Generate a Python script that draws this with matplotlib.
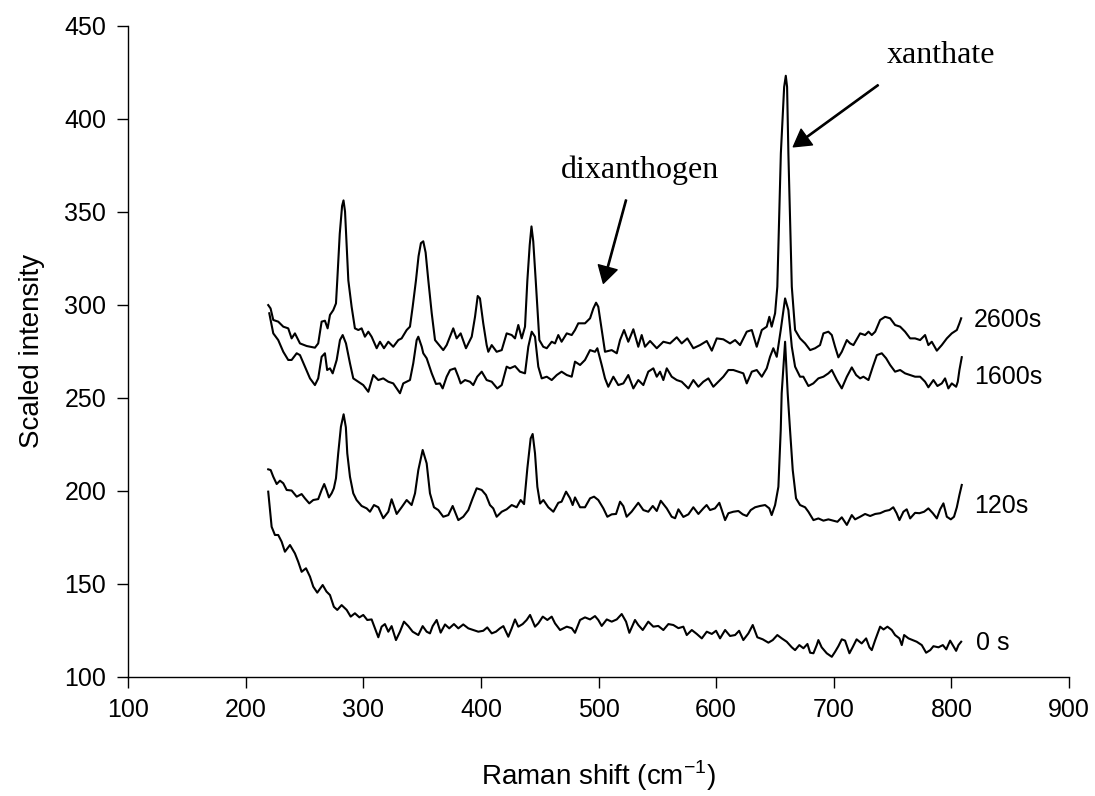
import matplotlib
matplotlib.use("Agg")
import matplotlib.pyplot as plt

plt.rcParams['font.family'] = ['Liberation Sans', 'DejaVu Sans']
plt.rcParams['mathtext.fontset'] = 'custom'
plt.rcParams['mathtext.rm'] = 'Liberation Sans'

# ---- spectra (Raman shift cm-1, scaled intensity) ----
x_2600 = [219.2, 221.2, 223.5, 227.7, 232.0, 236.2, 239.1, 241.9, 246.2, 251.9, 258.9, 261.7,
          264.6, 267.4, 269.7, 271.7, 274.5, 276.8, 277.9, 280.0, 282.0, 283.2, 284.5, 286.0,
          287.3, 290.1, 292.9, 295.8, 298.6, 301.4, 304.3, 307.1, 311.4, 314.2, 317.6, 321.3,
          325.5, 329.8, 332.6, 336.9, 339.7, 342.0, 344.8, 347.0, 349.0, 351.0, 353.0, 355.3,
          358.2, 361.0, 368.0, 370.9, 376.5, 379.4, 382.8, 387.3, 392.2, 395.0, 397.3, 399.2,
          402.0, 404.9, 406.3, 409.2, 413.4, 417.7, 421.9, 426.2, 429.0, 431.8, 434.7, 437.5,
          439.5, 441.5, 443.0, 444.5, 446.6, 449.7, 453.0, 456.0, 460.2, 463.0, 465.8, 468.6,
          473.0, 477.2, 480.0, 482.8, 488.5, 492.8, 495.6, 497.9, 499.8, 502.7, 505.5, 511.2,
          515.5, 518.3, 521.7, 525.3, 529.6, 533.8, 536.7, 539.5, 543.8, 549.5, 555.1, 560.8,
          566.5, 570.7, 575.5, 580.6, 586.3, 592.0, 596.3, 600.5, 606.1, 611.8, 616.1, 620.3,
          626.0, 630.3, 634.5, 638.8, 643.0, 645.2, 647.2, 650.1, 652.0, 655.0, 657.8, 659.2,
          660.3, 661.4, 664.3, 667.1, 671.3, 675.6, 679.9, 684.1, 688.3, 691.2, 695.4, 698.3,
          701.1, 703.9, 706.8, 711.1, 713.9, 716.7, 722.4, 726.6, 729.5, 732.3, 735.2, 739.4,
          743.6, 747.9, 752.1, 756.4, 760.6, 764.9, 769.1, 773.4, 777.6, 780.4, 783.3, 787.6,
          791.8, 796.1, 800.3, 804.6, 806.8, 808.3]
y_2600 = [299.7, 297.9, 291.7, 290.8, 288.1, 287.2, 281.8, 284.5, 279.1, 277.7, 276.8, 279.1,
          290.8, 291.3, 287.2, 294.4, 297.0, 300.6, 313.0, 338.0, 353.0, 356.0, 350.0, 330.0,
          313.0, 298.8, 287.2, 286.3, 287.2, 282.7, 285.4, 282.7, 276.5, 280.0, 276.5, 280.0,
          277.3, 280.9, 281.8, 286.3, 288.1, 298.8, 313.0, 326.0, 333.0, 334.0, 328.0, 313.0,
          295.3, 280.9, 275.5, 278.2, 287.2, 281.8, 284.5, 276.5, 282.7, 293.4, 304.6, 303.3,
          289.9, 278.2, 274.6, 278.2, 274.6, 275.5, 284.5, 283.6, 281.8, 289.0, 281.8, 288.1,
          313.0, 332.0, 342.0, 334.0, 313.0, 280.9, 277.3, 276.5, 280.0, 279.1, 283.6, 280.0,
          284.5, 283.6, 286.3, 289.9, 289.9, 292.6, 297.9, 301.0, 298.8, 286.3, 274.6, 275.5,
          273.8, 280.9, 286.3, 280.0, 286.7, 277.3, 283.6, 277.3, 280.4, 276.5, 280.0, 279.1,
          282.4, 279.1, 281.8, 276.5, 278.2, 280.4, 275.2, 281.8, 281.3, 279.1, 280.9, 278.2,
          285.4, 286.3, 277.3, 286.3, 288.1, 293.4, 288.1, 295.3, 309.6, 381.3, 417.0, 423.0,
          417.0, 381.3, 309.6, 286.3, 281.8, 279.1, 275.5, 276.5, 278.2, 284.5, 285.4, 283.6,
          277.3, 271.6, 274.6, 280.9, 279.1, 278.2, 284.5, 283.6, 285.4, 283.6, 285.4, 291.7,
          293.4, 292.6, 289.0, 288.1, 285.4, 281.8, 281.8, 280.9, 283.6, 278.2, 280.0, 275.2,
          278.2, 281.8, 284.5, 286.3, 289.9, 292.6]

x_1600 = [220.1, 223.5, 227.7, 232.0, 236.2, 239.1, 243.4, 246.2, 250.4, 254.7, 258.9, 261.7,
          264.6, 267.4, 269.3, 271.7, 274.0, 277.4, 280.2, 282.5, 285.3, 288.7, 291.5, 295.8,
          300.0, 304.3, 308.5, 312.8, 317.0, 321.3, 325.5, 331.2, 334.0, 339.7, 342.5, 345.4,
          346.8, 349.7, 351.0, 353.9, 358.2, 361.8, 365.2, 367.5, 370.9, 373.8, 378.0, 380.8,
          382.8, 386.5, 390.7, 393.5, 396.9, 400.7, 404.9, 409.2, 413.9, 417.7, 421.9, 424.7,
          429.0, 433.2, 437.5, 440.3, 443.2, 446.0, 448.8, 451.7, 456.0, 460.2, 464.5, 468.6,
          473.0, 477.2, 480.0, 484.3, 488.5, 492.8, 497.0, 499.0, 502.7, 505.5, 508.3, 512.6,
          516.8, 521.1, 525.3, 529.6, 533.8, 538.1, 542.3, 546.6, 549.5, 552.3, 555.1, 558.0,
          562.2, 566.5, 570.7, 576.4, 580.6, 584.9, 589.1, 593.4, 597.6, 601.9, 606.1, 610.4,
          614.6, 618.9, 623.1, 626.0, 630.3, 634.5, 638.8, 643.0, 645.8, 648.6, 651.5, 654.9,
          658.6, 661.4, 664.3, 667.1, 671.3, 674.1, 678.4, 682.6, 686.9, 691.2, 695.4, 698.3,
          702.6, 706.8, 711.1, 715.3, 719.0, 722.4, 725.2, 729.5, 733.2, 736.6, 740.8, 744.5,
          747.9, 752.1, 756.4, 760.6, 764.9, 769.1, 773.4, 777.6, 780.4, 784.7, 788.1, 791.8,
          794.6, 797.4, 800.3, 804.0, 805.4, 806.8, 808.8]
y_1600 = [295.3, 284.5, 280.9, 274.6, 270.2, 270.2, 273.8, 272.8, 266.6, 260.3, 256.7, 260.3,
          271.9, 273.8, 264.8, 265.7, 263.0, 270.2, 280.9, 283.6, 279.1, 268.4, 260.3, 258.5,
          256.7, 253.1, 262.1, 259.4, 260.3, 258.5, 257.6, 252.3, 257.6, 259.4, 268.4, 280.9,
          282.7, 277.3, 273.8, 271.1, 263.0, 257.3, 257.6, 254.9, 261.2, 264.8, 265.7, 261.2,
          257.6, 259.4, 258.5, 256.7, 261.2, 263.9, 259.4, 258.5, 254.9, 256.7, 266.6, 265.7,
          266.9, 263.9, 263.0, 277.3, 285.4, 282.7, 266.6, 260.3, 261.2, 259.4, 262.1, 263.9,
          262.1, 261.2, 269.3, 267.5, 270.2, 275.5, 274.6, 276.5, 267.5, 260.3, 255.8, 261.2,
          256.7, 257.6, 262.1, 254.9, 259.4, 256.7, 263.9, 265.7, 261.2, 263.9, 259.4, 265.7,
          261.2, 259.4, 258.5, 254.9, 259.4, 255.8, 258.5, 260.3, 255.8, 258.5, 261.2, 264.8,
          264.8, 263.9, 263.0, 257.6, 263.9, 264.8, 261.2, 265.7, 271.9, 276.5, 271.9, 286.3,
          303.3, 297.0, 277.3, 266.6, 261.2, 261.2, 256.2, 257.6, 260.3, 261.2, 263.0, 264.8,
          259.4, 254.9, 261.2, 266.2, 262.1, 260.3, 261.2, 259.4, 266.6, 272.8, 273.8, 271.1,
          267.5, 263.9, 264.8, 263.0, 262.1, 261.2, 261.2, 258.5, 255.5, 259.4, 256.2, 257.6,
          260.3, 254.9, 257.6, 255.8, 258.5, 264.8, 271.7]

x_120 = [219.2, 221.3, 223.5, 226.4, 229.2, 232.0, 234.9, 239.1, 243.4, 247.6, 250.4, 254.1,
         257.5, 261.7, 264.6, 266.8, 268.7, 270.8, 273.1, 275.0, 276.8, 278.7, 281.0, 283.3,
         285.2, 286.4, 288.7, 291.5, 294.3, 298.6, 302.9, 305.7, 309.1, 312.8, 317.0, 321.3,
         324.1, 328.4, 332.6, 336.9, 341.1, 344.0, 346.8, 350.5, 353.9, 356.7, 360.1, 363.8,
         368.0, 372.3, 376.0, 380.8, 385.0, 389.3, 393.0, 396.4, 400.7, 404.3, 407.7, 410.5,
         413.4, 417.7, 421.9, 426.2, 430.4, 433.8, 436.7, 439.5, 442.3, 444.0, 446.0, 448.0,
         450.3, 453.1, 457.3, 461.6, 465.8, 468.6, 472.4, 475.8, 478.0, 480.0, 484.3, 488.5,
         492.8, 496.2, 499.8, 504.1, 507.5, 511.2, 514.9, 518.3, 521.1, 523.9, 528.1, 533.8,
         538.1, 542.3, 546.1, 549.5, 552.9, 558.0, 562.2, 565.1, 567.9, 572.1, 576.4, 580.6,
         584.9, 589.1, 591.9, 594.8, 599.0, 602.7, 604.8, 607.6, 610.4, 614.6, 618.9, 622.6,
         626.0, 629.4, 633.1, 637.3, 641.6, 645.2, 647.2, 650.1, 652.9, 654.9, 655.7, 658.6,
         660.8, 662.8, 665.1, 667.9, 671.3, 675.6, 678.4, 682.7, 686.9, 691.2, 695.4, 699.7,
         703.1, 706.8, 711.1, 715.3, 718.1, 722.4, 726.6, 730.9, 735.2, 739.4, 743.6, 747.3,
         750.6, 753.4, 755.8, 759.2, 762.0, 764.9, 769.1, 772.8, 776.8, 780.4, 784.2, 787.6,
         790.4, 793.2, 796.1, 799.5, 802.2, 804.6, 806.8, 808.8]
y_120 = [211.4, 211.0, 207.4, 203.5, 205.3, 203.9, 200.3, 200.0, 196.7, 198.1, 195.8, 193.1,
         194.9, 195.4, 200.3, 203.5, 200.3, 196.3, 198.5, 201.2, 206.6, 220.0, 234.3, 241.0,
         234.0, 220.0, 207.4, 198.5, 194.9, 191.7, 190.4, 188.6, 192.2, 191.0, 185.1, 188.6,
         195.3, 187.4, 191.0, 194.9, 192.2, 198.5, 211.0, 221.8, 214.6, 198.5, 191.0, 189.5,
         185.9, 186.8, 191.7, 184.1, 185.9, 189.5, 195.8, 201.2, 200.3, 197.6, 192.2, 190.4,
         185.9, 188.6, 189.9, 192.2, 191.0, 194.9, 192.7, 212.0, 228.0, 230.4, 220.0, 202.0,
         193.0, 194.9, 191.0, 188.6, 193.4, 194.0, 199.4, 195.8, 192.2, 196.3, 191.0, 191.0,
         195.8, 196.7, 194.9, 190.4, 185.9, 187.2, 187.4, 194.0, 191.6, 185.9, 188.6, 193.4,
         189.5, 188.6, 191.7, 189.0, 194.5, 190.4, 185.9, 185.1, 189.9, 185.8, 187.2, 191.0,
         187.4, 190.4, 192.2, 189.5, 190.4, 193.4, 189.5, 184.1, 187.8, 188.6, 189.0, 187.2,
         186.3, 189.5, 191.0, 191.7, 192.2, 190.4, 186.8, 192.2, 202.0, 232.6, 252.3, 280.0,
         252.3, 232.6, 211.0, 195.8, 192.2, 191.0, 188.6, 184.1, 185.0, 183.8, 184.5, 183.8,
         183.2, 185.6, 181.5, 186.8, 184.5, 185.9, 187.4, 186.3, 187.4, 187.8, 189.0, 189.5,
         191.0, 187.8, 184.1, 188.6, 189.9, 185.0, 188.0, 187.8, 188.6, 190.4, 187.8, 185.0,
         189.9, 193.1, 185.9, 184.5, 185.9, 191.0, 197.6, 203.0]

x_0 = [219.2, 222.1, 224.9, 227.7, 230.6, 233.4, 237.7, 241.9, 244.7, 247.6, 251.3, 254.7,
       257.5, 260.9, 265.5, 268.7, 271.7, 275.0, 277.9, 281.6, 285.9, 289.3, 292.9, 296.7,
       300.0, 303.4, 307.1, 309.9, 312.8, 315.6, 318.4, 321.3, 324.1, 327.8, 331.2, 334.6,
       338.3, 342.0, 346.8, 350.5, 353.9, 356.7, 359.0, 362.4, 365.8, 369.5, 373.1, 377.1,
       380.8, 385.0, 389.3, 393.5, 397.8, 402.0, 405.4, 409.2, 412.8, 416.2, 419.1, 423.3,
       426.2, 429.0, 431.8, 435.5, 438.9, 441.8, 446.0, 448.8, 452.6, 456.5, 460.2, 463.0,
       467.3, 473.0, 477.2, 480.0, 484.3, 488.5, 492.8, 497.0, 499.8, 502.7, 507.0, 511.2,
       515.5, 519.7, 523.4, 526.2, 531.0, 533.8, 537.6, 542.3, 546.6, 550.8, 555.1, 559.4,
       563.6, 567.9, 572.1, 575.0, 579.3, 583.5, 587.8, 592.0, 596.3, 599.9, 603.3, 607.6,
       611.8, 616.1, 619.5, 623.1, 627.4, 631.1, 635.0, 639.6, 644.4, 648.1, 652.0, 655.8,
       660.0, 664.3, 667.1, 670.7, 674.2, 677.6, 679.9, 682.7, 685.5, 686.9, 689.7, 694.0,
       698.3, 701.1, 703.9, 706.8, 709.6, 713.3, 716.0, 719.4, 723.7, 727.5, 730.3, 732.3,
       735.2, 739.4, 742.3, 745.6, 749.3, 752.1, 755.8, 757.8, 759.8, 763.5, 767.1, 770.5,
       774.8, 778.5, 782.0, 784.7, 789.0, 792.7, 795.6, 798.9, 801.1, 804.0, 806.0, 808.3]
y_0 = [199.4, 180.5, 176.1, 176.1, 172.5, 167.1, 170.7, 166.2, 161.7, 156.3, 158.2, 153.7,
       148.3, 145.1, 149.2, 145.7, 143.8, 137.5, 135.8, 138.4, 135.8, 132.2, 134.0, 131.8,
       133.1, 130.4, 130.7, 125.9, 121.1, 126.8, 128.2, 124.1, 127.1, 119.6, 124.1, 129.5,
       127.1, 124.1, 122.3, 127.1, 124.1, 123.2, 127.1, 130.4, 123.6, 128.0, 125.9, 128.2,
       125.9, 128.0, 125.9, 125.0, 124.1, 124.6, 126.4, 123.2, 124.1, 125.9, 127.1, 121.4,
       125.9, 130.7, 126.8, 128.2, 130.4, 133.1, 126.8, 128.6, 132.2, 130.4, 132.2, 128.6,
       125.0, 126.8, 126.0, 123.5, 130.4, 131.8, 130.7, 132.5, 130.4, 127.2, 130.7, 129.5,
       130.7, 133.6, 129.5, 123.5, 130.4, 127.7, 125.0, 129.5, 126.8, 127.2, 125.0, 128.2,
       127.7, 126.0, 126.8, 122.3, 125.0, 122.9, 120.5, 124.1, 122.9, 124.6, 120.5, 125.0,
       121.8, 122.3, 124.6, 119.6, 123.2, 127.7, 121.1, 120.0, 118.2, 119.6, 122.3, 120.5,
       118.7, 115.7, 114.2, 116.9, 115.2, 117.5, 112.8, 112.5, 116.9, 119.6, 115.7, 112.5,
       110.6, 113.3, 116.3, 120.0, 119.3, 112.5, 115.7, 120.0, 117.8, 120.5, 115.7, 114.2,
       119.6, 126.8, 125.3, 126.8, 125.0, 122.3, 120.5, 116.9, 122.3, 120.5, 119.6, 118.7,
       116.9, 112.8, 114.2, 116.3, 115.7, 116.9, 114.6, 119.3, 116.9, 113.8, 116.9, 118.7]

series_labels = ['2600s', '1600s', '120s', '0 s']
label_x = [819, 819, 819, 821]
label_y = [291.7, 261.2, 191.7, 117.8]

fig = plt.figure(figsize=(10.95, 7.96), dpi=100)
ax = fig.add_axes([0.1169, 0.1501, 0.8594, 0.8178])

for xs, ys in [(x_2600, y_2600), (x_1600, y_1600), (x_120, y_120), (x_0, y_0)]:
    ax.plot(xs, ys, color='black', lw=1.5)

for lab, lx, ly in zip(series_labels, label_x, label_y):
    ax.text(lx, ly, lab, fontsize=18, ha='left', va='center')

# peak annotations
arrow = dict(facecolor='black', edgecolor='black', width=0.9, headwidth=14,
             headlength=12, shrink=0.0)
ax.annotate('', xy=(665.6, 384.8), xytext=(737.7, 418.0), arrowprops=arrow)
ax.annotate('', xy=(504.1, 311.4), xytext=(523.4, 356.2), arrowprops=arrow)
ax.text(745, 434, 'xanthate', family=['Liberation Serif'], fontsize=23,
        ha='left', va='center')
ax.text(535.3, 372.3, 'dixanthogen', family=['Liberation Serif'], fontsize=23,
        ha='center', va='center')

ax.set_xlim(100, 900)
ax.set_ylim(100, 450)
ax.set_xticks(range(100, 901, 100))
ax.set_yticks(range(100, 451, 50))
ax.tick_params(direction='out', length=7.7, width=1.0, labelsize=18, pad=8)
ax.spines['top'].set_visible(False)
ax.spines['right'].set_visible(False)
for s in ['left', 'bottom']:
    ax.spines[s].set_linewidth(1.0)

ax.set_xlabel(r'Raman shift (cm$^{\mathregular{-1}}$)', fontsize=20, labelpad=26)
ax.set_ylabel('Scaled intensity', fontsize=20, labelpad=14)

fig.savefig('out.png', dpi=100)
